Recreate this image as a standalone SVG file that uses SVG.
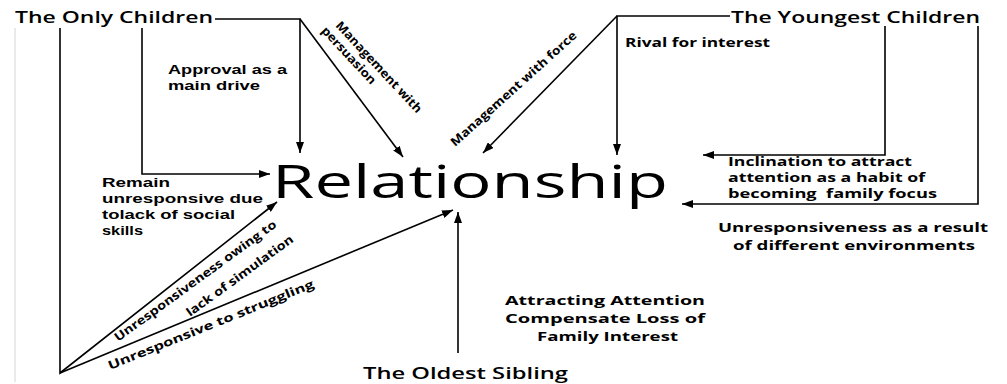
<svg xmlns="http://www.w3.org/2000/svg" width="1007" height="384" viewBox="0 0 1007 384">
<style>
text{font-family:"Open Sans","Noto Sans","Liberation Sans",sans-serif;fill:#000}
.ttl{font-size:16px;font-weight:600}
.lbl{font-size:13px;font-weight:700}
.sm{font-size:12px;font-weight:700}
.tight{font-family:"Liberation Sans",Arial,sans-serif;font-size:13px;font-weight:700}
.big{font-size:46px;font-weight:400}
.ln{fill:none;stroke:#000;stroke-width:1.6}
.arr{marker-end:url(#ah)}
</style>
<defs>
<marker id="ah" markerUnits="userSpaceOnUse" markerWidth="12" markerHeight="8" refX="11" refY="4" orient="auto">
<path d="M0,0 L11,4 L0,8 z" fill="#000"/>
</marker>
</defs>
<rect width="1007" height="384" fill="#fff"/>
<line x1="15" y1="28" x2="15" y2="382" stroke="#d4d4d4" stroke-width="1"/>
<g id="connectors">
<path class="ln arr" d="M215,19 H300 V153"/>
<path class="ln arr" d="M300,19 L403,157"/>
<path class="ln arr" d="M142,28 V174 H270"/>
<path class="ln arr" d="M60,28 V373 L277,202"/>
<path class="ln arr" d="M60,373 L453,210"/>
<path class="ln arr" d="M458,353 V212"/>
<path class="ln arr" d="M730,16 H617 V155"/>
<path class="ln arr" d="M617,16 L483,153"/>
<path class="ln arr" d="M885,26 V155 H703"/>
<path class="ln arr" d="M978,26 V204 H682"/>
</g>
<g id="only-children"><text class="ttl" x="15" y="23" textLength="198" lengthAdjust="spacingAndGlyphs">The Only Children</text></g>
<g id="youngest-children"><text class="ttl" x="731" y="23" textLength="249" lengthAdjust="spacingAndGlyphs" font-size="17">The Youngest Children</text></g>
<g id="oldest-sibling"><text class="ttl" x="363" y="379" textLength="205" lengthAdjust="spacingAndGlyphs">The Oldest Sibling</text></g>
<g id="relationship"><text class="big" x="272" y="198" textLength="396" lengthAdjust="spacingAndGlyphs">Relationship</text></g>
<g id="labels">
<text class="tight"><tspan x="168" y="74" textLength="119" lengthAdjust="spacingAndGlyphs">Approval as a</tspan><tspan x="168" y="90" textLength="92" lengthAdjust="spacingAndGlyphs">main drive</tspan></text>
<text class="sm" x="625" y="47" textLength="145" lengthAdjust="spacingAndGlyphs">Rival for interest</text>
<text class="tight"><tspan x="102" y="187" textLength="68" lengthAdjust="spacingAndGlyphs">Remain</tspan><tspan x="102" y="203" textLength="161" lengthAdjust="spacingAndGlyphs">unresponsive due</tspan><tspan x="102" y="219" textLength="133" lengthAdjust="spacingAndGlyphs">tolack of social</tspan><tspan x="102" y="235" textLength="41" lengthAdjust="spacingAndGlyphs">skills</tspan></text>
<text class="sm" xml:space="preserve"><tspan x="728" y="166" textLength="184" lengthAdjust="spacingAndGlyphs">Inclination to attract</tspan><tspan x="728" y="182" textLength="197" lengthAdjust="spacingAndGlyphs">attention as a habit of</tspan><tspan x="728" y="198" textLength="209" lengthAdjust="spacingAndGlyphs">becoming  family focus</tspan></text>
<text class="lbl" font-size="14"><tspan x="718" y="232" textLength="270" lengthAdjust="spacingAndGlyphs">Unresponsiveness as a result</tspan><tspan x="733" y="250" textLength="242" lengthAdjust="spacingAndGlyphs">of different environments</tspan></text>
<text class="lbl"><tspan x="505" y="305" textLength="200" lengthAdjust="spacingAndGlyphs">Attracting Attention</tspan><tspan x="505" y="323" textLength="200" lengthAdjust="spacingAndGlyphs">Compensate Loss of</tspan><tspan x="537" y="341" textLength="141" lengthAdjust="spacingAndGlyphs">Family Interest</tspan></text>
<text class="sm" transform="translate(335,26) rotate(47)"><tspan x="0" y="0" textLength="120" lengthAdjust="spacingAndGlyphs">Management with</tspan><tspan x="-6" y="14" textLength="74" lengthAdjust="spacingAndGlyphs">persuasion</tspan></text>
<text class="sm" transform="translate(455,147) rotate(-42)" textLength="165" lengthAdjust="spacingAndGlyphs">Management with force</text>
<text class="sm" transform="translate(118,342) rotate(-36)" textLength="197" lengthAdjust="spacingAndGlyphs">Unresponsiveness owing to</text>
<text class="sm" transform="translate(190,317) rotate(-36)" textLength="129" lengthAdjust="spacingAndGlyphs">lack of simulation</text>
<text class="sm" transform="translate(110,370) rotate(-22)" textLength="221" lengthAdjust="spacingAndGlyphs">Unresponsive to struggling</text>
</g>
</svg>
